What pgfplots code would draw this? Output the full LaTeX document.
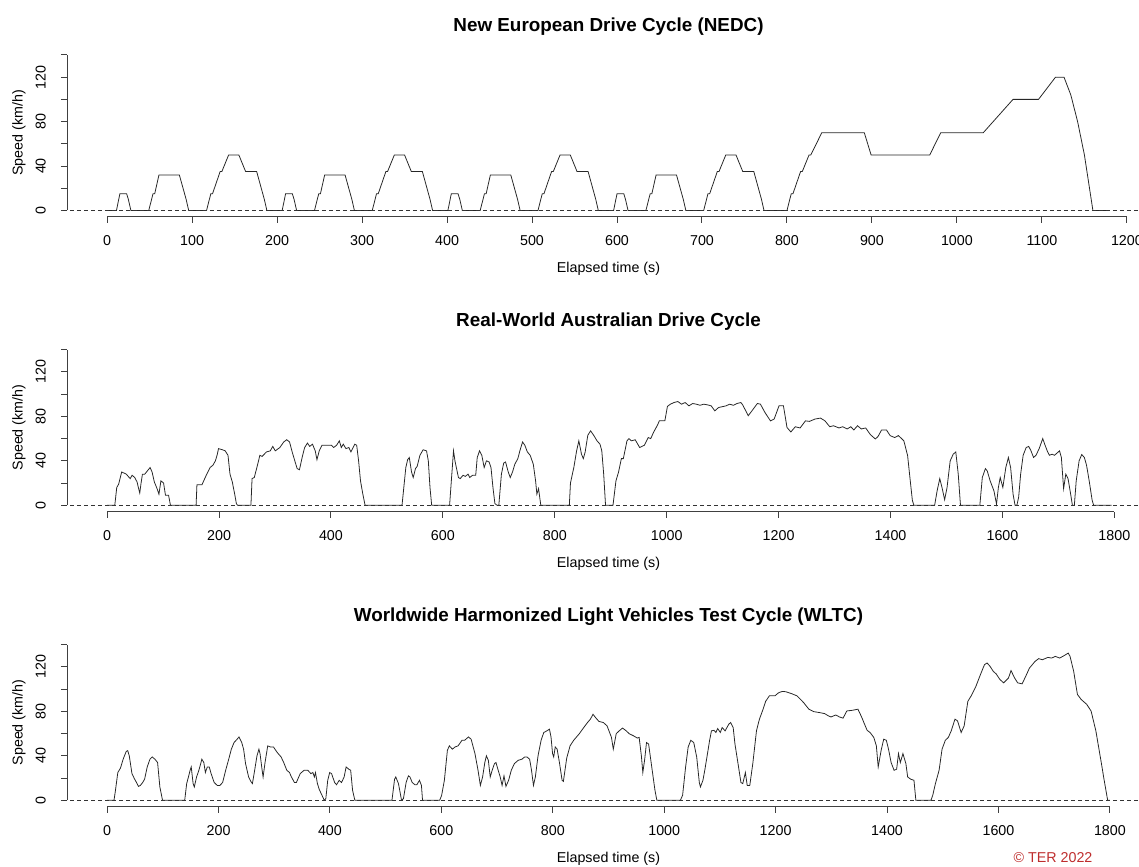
\documentclass[border=0pt]{standalone}
\usepackage{pgfplots}
\pgfplotsset{compat=1.18}
\usepackage{fontspec}
\setmainfont{Liberation Sans}
\definecolor{terred}{RGB}{190,45,45}
\tikzset{
 zeroline/.style={black!80, line width=0.6pt, dash pattern=on 2.8pt off 2.1pt},
 axline/.style={black!75, line width=0.7pt},
}
\pgfplotsset{
 rstyle/.style={
  scale only axis, width=758.1pt, height=117.6pt,
  ymin=-5.6, ymax=145.6,
  axis x line*=bottom, axis y line*=left,
  axis line style={draw=none},
  tick align=outside, major tick length=4.2pt,
  every tick/.style={black!75, line width=0.7pt},
  ytick={0,20,...,140}, yticklabels={0,,40,,80,,120,},
  yticklabel style={rotate=90, anchor=south, inner sep=0pt},
  xticklabel style={anchor=north, inner sep=0pt},
  xticklabel shift=9pt, yticklabel shift=10.5pt,
  tick label style={font=\fontsize{10}{12}\selectfont},
  label style={font=\fontsize{10}{12}\selectfont},
  title style={font=\bfseries\fontsize{13.2}{15}\selectfont, at={(axis description cs:0.5,1.0815)}, anchor=center},
  xlabel={Elapsed time (s)}, ylabel={Speed (km/h)},
  xlabel style={at={(axis description cs:0.5,-0.31)}, anchor=center},
  ylabel style={at={(axis description cs:-0.0443,0.5)}, anchor=center},
  clip=false,
 },
 dataline/.style={black!85, line width=0.55pt, no marks},
}
\begin{document}
\begin{tikzpicture}
\useasboundingbox (0,0) rectangle (797.3pt,-606.2pt);
% ---------------- NEDC
\begin{axis}[rstyle, at={(46.9pt,-151.69pt)}, anchor=south west,
  xmin=-47.2, xmax=1227.2,
  xtick={0,100,...,1200}, xticklabels={0,100,200,300,400,500,600,700,800,900,1000,1100,1200},
  title={New European Drive Cycle (NEDC)}]
\addplot[dataline] coordinates {
(0,0) (11,0) (15,15) (23,15) (25,10) (28,0) (49,0) (54,15) (56,15) (61,32) (85,32) (93,10) (96,0) (117,0) (122,15) (124,15) (133,35) (135,35) (143,50) (155,50) (163,35) (176,35) (185,10) (188,0)
(195,0) (206,0) (210,15) (218,15) (220,10) (223,0) (244,0) (249,15) (251,15) (256,32) (280,32) (288,10) (291,0) (312,0) (317,15) (319,15) (328,35) (330,35) (338,50) (350,50) (358,35) (371,35) (380,10) (383,0)
(390,0) (401,0) (405,15) (413,15) (415,10) (418,0) (439,0) (444,15) (446,15) (451,32) (475,32) (483,10) (486,0) (507,0) (512,15) (514,15) (523,35) (525,35) (533,50) (545,50) (553,35) (566,35) (575,10) (578,0)
(585,0) (596,0) (600,15) (608,15) (610,10) (613,0) (634,0) (639,15) (641,15) (646,32) (670,32) (678,10) (681,0) (702,0) (707,15) (709,15) (718,35) (720,35) (728,50) (740,50) (748,35) (761,35) (770,10) (773,0)
(780,0) (800,0) (805,15) (807,15) (816,35) (818,35) (826,50) (828,50) (841,70) (891,70) (899,50) (968,50) (981,70) (1031,70) (1066,100) (1096,100) (1116,120) (1126,120) (1134,104) (1142,80) (1150,50) (1160,0) (1180,0)
};
\draw[zeroline] (axis cs:-52,0) -- (axis cs:1227.2,0);
\draw[axline] (axis cs:0,-5.6) -- (axis cs:1200,-5.6);
\draw[axline] (axis cs:-47.2,0) -- (axis cs:-47.2,140);
\end{axis}
% ---------------- Real-World Australian
\begin{axis}[rstyle, at={(46.9pt,-358.05pt)}, anchor=south west,
  xmin=-71.7, xmax=1863.7,
  xtick={0,200,...,1800}, xticklabels={0,200,400,600,800,1000,1200,1400,1600,1800},
  title={Real-World Australian Drive Cycle}]
\addplot[dataline] coordinates {
(0,0) (13.7,0) (17.2,16) (20.6,19) (26.1,30) (34.3,28) (41.2,24) (44.6,27) (49.4,25) (53.5,21) (56.3,15) (58.3,11) (60.4,19) (63.1,28) (67.2,28) (72,31) (76.8,34) (80.3,30) (84.4,21) (89.2,15) (92.6,10) (96.1,22) (100.9,20) (104.3,9) (109.8,9) (113.2,0)
(159,0) (160.5,18.5) (169.5,18.5) (178,28) (184,34) (189,36) (193.5,40) (197,46) (199,51) (206,50) (211,49) (216,45) (219.6,28) (223.7,21) (228,10) (231,1.5) (233,0)
(257,0) (259,24) (263,25) (267.6,34) (273,45) (277,44) (284.7,48) (291.6,49) (296,53) (300.5,49) (308.7,52) (315.6,57) (321,59) (326,57) (330.7,48) (336,39) (339.6,33) (343.7,32) (348.5,43) (353,52) (358,56) (362,53) (367,55) (371.9,49) (375,41) (379,49) (384,54) (394.5,54) (401,54) (404.8,52) (410,54) (415,58) (418.5,52) (422,55) (426.8,51) (432,52) (435.7,48) (442.5,55) (446,54) (449.4,40) (452.8,22) (457,10) (461,0)
(527,0) (533.8,34) (537,41) (540,43) (544,30) (547,25) (551,33) (554,35) (559,45) (564.7,50) (570.8,49) (574,40) (577,16) (580,0)
(612,0) (619,49) (621.6,40) (627.8,25) (631,24) (636,27) (640,26) (645,28) (648,25) (653,27) (658.7,27) (661.4,43) (665.5,49) (669.6,45) (673.8,34) (677.9,40) (682.7,39) (686,34) (689.5,16) (693,1.5) (697,0)
(700,0) (704.6,28) (708.7,38) (712,39) (716.8,30) (720.4,25) (724.5,30) (728.6,37) (734,42) (737.6,49) (742.4,57) (746.5,54) (751,48) (756,45) (761.6,37) (765.7,22) (768,10) (771,15) (775,0)
(826,0) (828,20) (834,34) (839,49) (843,58) (847.7,46) (851,42) (854.3,48) (859,63) (864,67) (869.5,63) (875.5,58) (880.8,55) (884,49) (887.4,28) (890.7,0)
(904,0) (909.3,22) (914,30) (919,42) (922.5,42) (929,58) (932.5,60) (937,58) (943.7,59) (951.7,52) (960,54) (966.9,61) (971.5,60) (976.8,66) (983.4,72) (986.8,76) (996.7,76) (1001.3,89) (1006.6,91) (1013,92.5) (1019.9,93.4) (1026.5,91) (1033,92.5) (1039.7,89.5) (1046.4,91.6) (1053,91) (1059.6,90) (1066,91) (1072.8,90.4) (1079.5,89.5) (1086,85) (1092.7,88) (1099,88.7) (1106,89.5) (1112.6,91) (1119,90) (1125.8,91.6) (1132.5,92.5) (1135.8,90.4) (1145.7,80.6) (1152.3,85) (1162,91.6) (1167.5,91) (1175.5,83.6) (1185.4,76) (1192,77.6) (1200.7,89.5) (1208.6,89.5) (1215,70) (1221.9,66) (1229.8,70.7) (1238.4,69.6) (1248,76) (1255,75.5) (1265,77.6) (1274.8,78.5) (1282.8,76) (1291.4,70.7) (1298,71.6) (1308,69.6) (1314.6,70.7) (1322.5,68.7) (1329,70.7) (1334.4,67.8) (1341,71.6) (1347.7,68.7) (1355.6,69.6) (1364,63.6) (1372.8,59.7) (1377.5,61.8) (1384,67.8) (1392.7,67.8) (1399.3,62.7) (1407.3,61) (1414,62.7) (1420.5,59.7) (1423.8,58) (1430.5,44.8) (1435.8,19.4) (1439,4.5) (1441.7,0)
(1478.8,0) (1483.4,13.4) (1488,24) (1492,16) (1496.7,5) (1501,16) (1506.6,40) (1512,46) (1516.6,48) (1521,28) (1525,0)
(1559.6,0) (1564,25) (1569.5,33) (1572.8,31) (1578,22) (1584.8,13) (1589.4,1) (1592.7,16) (1596,25) (1600.7,16) (1606,34) (1610.6,43) (1614.6,34) (1619,10) (1622.5,0) (1625.8,0) (1629,7.5) (1632.5,28) (1637,45) (1642.4,52) (1647,53) (1651,49) (1655.6,43) (1660,45) (1665.6,51) (1672,60) (1675.5,55) (1680,49) (1684,45) (1688.7,46) (1693,45) (1702,49) (1705.3,43) (1709.3,15) (1713.2,28) (1717.2,24) (1721.9,10) (1725,0) (1728.5,0) (1731.8,22) (1737,40) (1741.7,45.7) (1746.4,43) (1750.3,36) (1755,22) (1760.3,4.5) (1763,0) (1795,0)
};
\draw[zeroline] (axis cs:-79,0) -- (axis cs:1863.7,0);
\draw[axline] (axis cs:0,-5.6) -- (axis cs:1800,-5.6);
\draw[axline] (axis cs:-71.7,0) -- (axis cs:-71.7,140);
\end{axis}
% ---------------- WLTC
\begin{axis}[rstyle, at={(46.9pt,-564.55pt)}, anchor=south west,
  xmin=-72, xmax=1872,
  xtick={0,200,...,1800}, xticklabels={0,200,400,600,800,1000,1200,1400,1600,1800},
  title={Worldwide Harmonized Light Vehicles Test Cycle (WLTC)}]
\addplot[dataline] coordinates {
(0,0) (12.4,0) (15,9) (19.2,25) (24,29) (28.8,37) (34.3,44) (37,44.7) (39.8,40) (44.6,24) (49.4,19) (52.8,16) (56.3,12.5) (59.7,13.4) (63.8,16) (67.3,19) (72,30) (76.9,37) (81,39) (85.8,37) (90.6,34) (94.7,12) (99.5,0)
(139.3,0) (142.8,15) (146,21) (149,27) (151,30) (154.4,15) (156.5,12) (160.6,21) (164.7,27) (168,33) (170,37) (173.6,34) (176.4,25) (179.8,30) (183.3,30) (186.7,24) (192.2,16) (197.7,13.4) (202.5,13.4) (207.3,16) (212.8,27) (218.3,37) (223,46) (227.9,52) (233.4,55) (236.8,57) (241.6,52) (245,46) (248.5,33) (254,21) (258,17) (260.8,15) (264.2,25) (269,40) (272.5,46) (274.5,42) (278,28) (280,21) (283.5,34) (288.3,49) (293,48) (298.6,48) (305.4,43) (312.3,39) (317,34) (322.6,27) (327.4,25) (330.8,21) (336.3,16) (339.7,16) (346.6,24) (353.5,27) (360.3,27) (365.8,24) (369.3,25) (372,21) (374,25) (377.5,15) (381,9.5) (385.7,4.5) (389.8,0) (392.6,1.5) (396,18) (399.5,25) (402.9,24) (408.4,16) (411.8,14) (416.6,18) (420.7,16) (425.5,21) (429,30) (433.8,28) (437.2,27) (440.6,9) (444.7,0)
(511.3,0) (516,19) (518.2,21) (523,15) (528.5,0) (531.9,1.5) (536.7,16) (540.8,22) (543.6,21) (547.7,16) (552.5,14) (556,14) (560.7,18) (564.2,13.4) (566.2,0)
(597,0) (600.5,4.5) (605.4,18) (610.8,45) (614.3,49) (619.8,46) (624.6,48) (630,49) (637,54) (641.7,54) (648.6,57) (653.4,55) (660.3,42) (665.8,27) (670,13.4) (674,21) (678,34) (680.8,40) (684.3,36) (687.7,21) (691.2,27) (695.3,33) (698,34) (702,27) (705.6,21) (709,13.4) (712.4,22) (715.9,12.5) (720.7,18) (725.5,27) (731,33) (737.9,36) (744.7,37) (749.5,39) (753.6,39) (758.4,37) (761.8,27) (765.3,13.4) (768.7,21) (773.5,40) (779,54) (783.8,61) (789.3,62.5) (794,64) (796.8,57) (799.6,42) (801.6,39) (804.4,48) (807.8,46) (811.9,34) (816.7,18) (819,17) (825,38) (831,49) (837.5,54) (847.7,60) (855.6,65.5) (862.3,70) (867.5,73) (872.2,77.4) (877.5,74) (882.8,71) (890.7,70) (897.4,67) (905.3,56.6) (908.6,46) (913.9,60) (919.2,62.5) (925.2,65) (931.8,62.5) (937,60) (945,58) (951.7,56) (955,56.6) (959,40) (961.6,25) (965,37) (968.2,52) (972,50.6) (976.8,33) (983.4,9) (986.8,0)
(1029,0) (1033,4.5) (1038.4,30) (1043,48) (1047.7,54) (1053,52) (1058.3,39) (1063,16) (1065,12) (1069.5,18) (1072.8,27) (1078,43) (1081.5,54) (1084.8,62.5) (1089.4,63) (1092.7,61) (1096,64.6) (1100.7,61) (1104,65.5) (1109.3,62.5) (1115.9,68.5) (1119.2,70) (1123.8,65.5) (1127,50.6) (1132.5,33) (1137.7,16) (1141,15) (1145.7,25) (1149,13.4) (1153.6,13.4) (1159,33) (1165.6,62.5) (1170.9,73) (1177.5,82) (1182,89) (1188.7,94) (1198.7,94) (1205.3,96.8) (1212,98) (1218.5,97.7) (1228.5,96) (1238.4,94) (1250.3,87.9) (1259.6,82) (1268.2,79.8) (1278,79) (1288,78) (1294.7,76) (1299.3,75) (1308,76.8) (1314.6,75) (1321,73.9) (1327.8,80.4) (1337.7,81) (1347.7,82) (1354.3,75) (1359.6,68.5) (1364.2,63) (1369.5,61) (1376.2,56.6) (1380.8,49) (1384.1,30) (1389.4,45) (1394,55) (1398.7,54) (1402.6,46) (1407.3,34) (1412.6,27) (1417.2,28) (1420.5,42) (1423.8,34) (1428.5,42) (1433.8,33) (1437,21) (1442.4,19) (1448.3,18) (1451.7,0)
(1478.8,0) (1482,4.5) (1486.8,15) (1493.4,27) (1498.7,46) (1504.6,54) (1510,56.6) (1515.2,62.5) (1521.9,73) (1526.5,71.5) (1533,61) (1538.4,67) (1545,89) (1551,94) (1559.6,102.7) (1567.5,113) (1574.8,122) (1579.5,123.6) (1584.8,120.6) (1590.7,116) (1596,113.7) (1602.6,108.7) (1609.3,105.7) (1617.9,110) (1622.5,116.7) (1629.1,110) (1634.4,105.7) (1642.4,104.8) (1649,111.7) (1655.6,119) (1665.6,125) (1672.2,127.5) (1678.8,126.5) (1688.7,128.6) (1695.4,128) (1702,129.5) (1709.9,128) (1718.5,130.4) (1725.2,132.5) (1728.5,129.5) (1735,116) (1741.7,95.3) (1748.3,90.8) (1758.3,86.4) (1766.2,80.4) (1774.8,62.5) (1784.8,33) (1789.4,19) (1796,0) (1800,0)
};
\draw[zeroline] (axis cs:-79,0) -- (axis cs:1872,0);
\draw[axline] (axis cs:0,-5.6) -- (axis cs:1800,-5.6);
\draw[axline] (axis cs:-72,0) -- (axis cs:-72,140);
\end{axis}
\node[text=terred, font=\fontsize{10}{12}\selectfont, anchor=center] at (737.1pt,-600.6pt) {© TER 2022};
\end{tikzpicture}
\end{document}
